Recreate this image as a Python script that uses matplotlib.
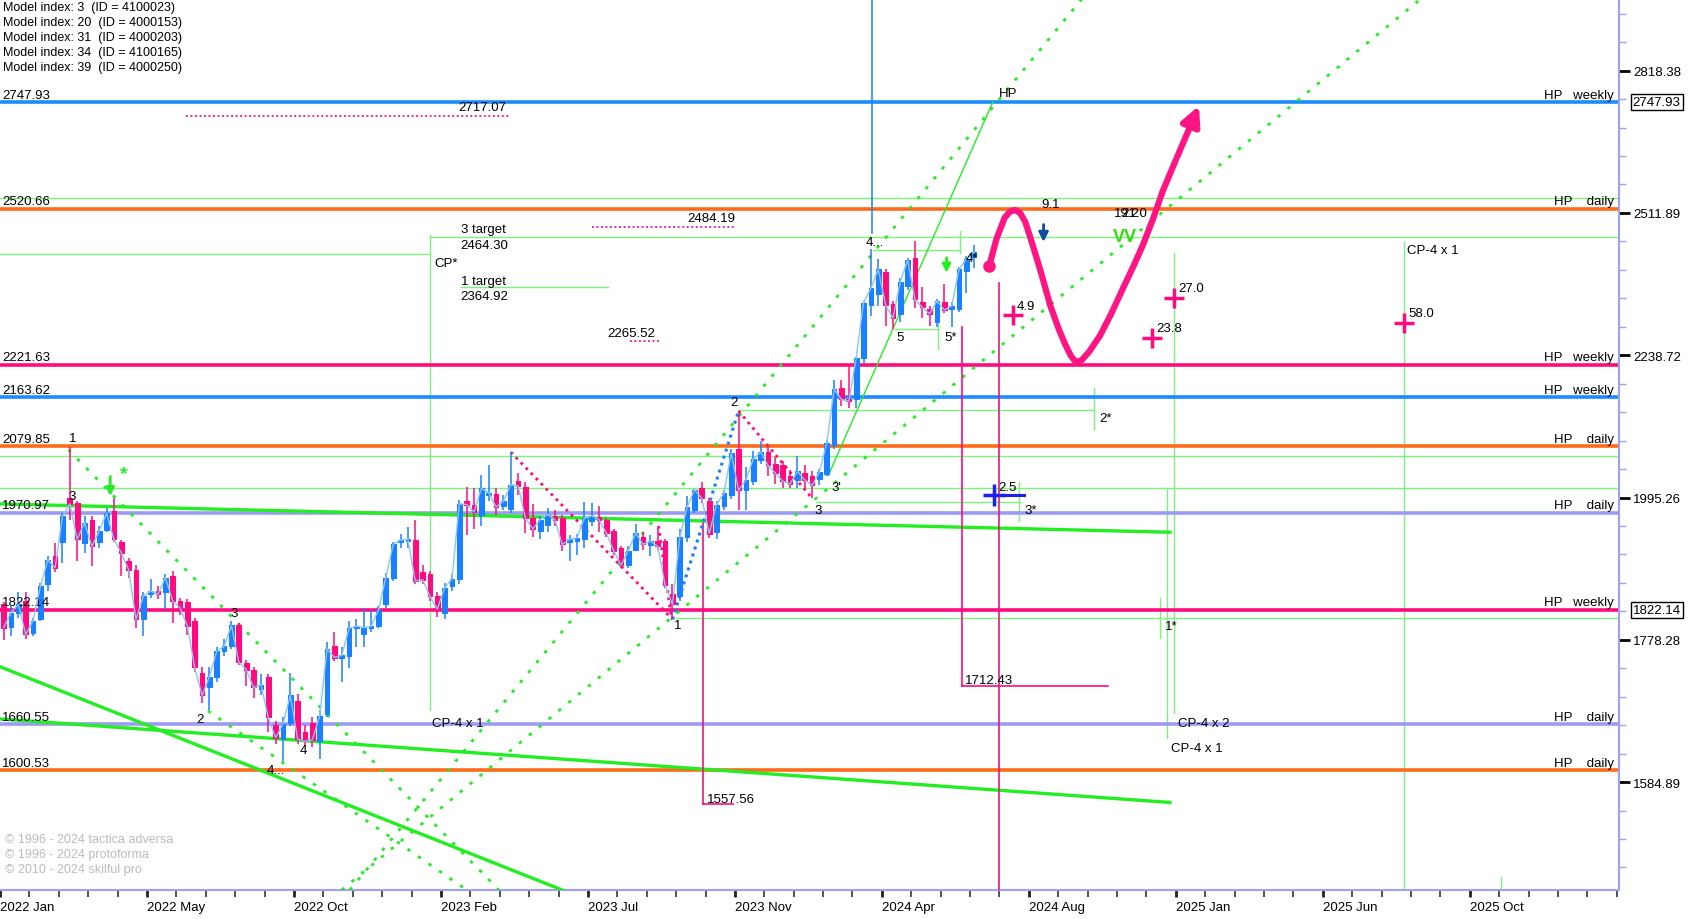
import matplotlib
matplotlib.use("Agg")
import matplotlib.pyplot as plt
import numpy as np
from matplotlib.ticker import FixedLocator, FixedFormatter, NullFormatter

plt.rcParams['font.family'] = ['Liberation Sans', 'DejaVu Sans']

# weekly candles, first week of Jan 2022 .. mid Jul 2024
opens = [1830, 1797, 1818, 1835, 1788, 1808, 1860, 1903, 1925, 1995,
         1987, 1923, 1960, 1924, 1944, 1973, 1924, 1895, 1882, 1808,
         1845, 1850, 1848, 1873, 1835, 1833, 1805, 1731, 1711, 1725,
         1762, 1770, 1799, 1745, 1735, 1709, 1725, 1660, 1641, 1662,
         1693, 1650, 1663, 1638, 1675, 1769, 1752, 1755, 1796, 1786,
         1796, 1798, 1830, 1870, 1924, 1926, 1928, 1878, 1875, 1842,
         1818, 1858, 1868, 1990, 1983, 1968, 2000, 2001, 1981, 1977,
         2022, 2013, 1962, 1942, 1952, 1965, 1962, 1925, 1926, 1929,
         1957, 1964, 1959, 1942, 1915, 1889, 1913, 1933, 1920, 1926,
         1926, 1845, 1843, 1932, 1976, 2010, 1990, 1940, 1982, 2000,
         2075, 2007, 2022, 2057, 2070, 2050, 2048, 2030, 2023, 2036,
         2030, 2026, 2034, 2082, 2180, 2160, 2160, 2234, 2332, 2353,
         2394, 2333, 2314, 2368, 2421, 2338, 2324, 2300, 2338, 2324,
         2324, 2397, 2423]
highs = [1834, 1828, 1848, 1848, 1810, 1862, 1903, 1923, 1970, 2078,
         1990, 1966, 1965, 1950, 1978, 1995, 1928, 1900, 1890, 1848,
         1868, 1858, 1875, 1880, 1840, 1838, 1810, 1740, 1740, 1768,
         1780, 1805, 1802, 1750, 1740, 1730, 1730, 1665, 1670, 1731,
         1702, 1660, 1670, 1680, 1775, 1790, 1768, 1805, 1808, 1825,
         1822, 1828, 1877, 1925, 1938, 1948, 1960, 1890, 1880, 1848,
         1862, 1875, 1992, 2012, 2010, 2032, 2048, 2010, 2000, 2070,
         2035, 2020, 1985, 1965, 1978, 1975, 1968, 1935, 1938, 1988,
         1986, 1982, 1962, 1945, 1918, 1918, 1953, 1940, 1935, 1947,
         1930, 1860, 1945, 1997, 2009, 2020, 1995, 1990, 2007, 2075,
         2140, 2045, 2072, 2088, 2078, 2062, 2055, 2040, 2063, 2048,
         2038, 2042, 2090, 2195, 2195, 2222, 2236, 2340, 2439, 2420,
         2400, 2340, 2384, 2422, 2456, 2365, 2330, 2342, 2371, 2338,
         2404, 2425, 2448]
lows = [1778, 1784, 1810, 1780, 1784, 1806, 1850, 1878, 1892, 1960,
        1895, 1908, 1888, 1915, 1940, 1925, 1873, 1870, 1796, 1784,
        1840, 1838, 1823, 1803, 1815, 1785, 1733, 1690, 1680, 1718,
        1755, 1765, 1742, 1713, 1696, 1700, 1650, 1635, 1612, 1658,
        1635, 1632, 1630, 1615, 1670, 1748, 1718, 1738, 1768, 1768,
        1790, 1795, 1825, 1865, 1915, 1915, 1860, 1860, 1835, 1812,
        1808, 1850, 1860, 1935, 1945, 1950, 1990, 1968, 1975, 1970,
        2000, 1939, 1933, 1929, 1940, 1950, 1910, 1895, 1905, 1915,
        1950, 1940, 1932, 1905, 1885, 1884, 1910, 1913, 1903, 1912,
        1855, 1808, 1835, 1925, 1970, 1987, 1931, 1930, 1975, 1993,
        1975, 1975, 2015, 2050, 2030, 2018, 2010, 2010, 2010, 2010,
        1994, 2015, 2030, 2075, 2148, 2146, 2146, 2225, 2311, 2329,
        2292, 2286, 2300, 2360, 2325, 2308, 2293, 2290, 2316, 2290,
        2318, 2354, 2402]
closes = [1796, 1818, 1830, 1786, 1806, 1857, 1897, 1885, 1965, 1985,
          1929, 1955, 1918, 1942, 1970, 1929, 1908, 1882, 1808, 1842,
          1850, 1845, 1870, 1835, 1825, 1798, 1739, 1700, 1726, 1762,
          1769, 1799, 1746, 1736, 1711, 1715, 1670, 1643, 1661, 1700,
          1641, 1638, 1640, 1672, 1765, 1753, 1756, 1795, 1798, 1796,
          1798, 1822, 1870, 1921, 1928, 1929, 1865, 1867, 1842, 1823,
          1855, 1868, 1985, 1984, 1972, 2010, 2003, 1980, 1989, 2016,
          2014, 1962, 1945, 1960, 1968, 1960, 1921, 1929, 1931, 1962,
          1966, 1960, 1939, 1911, 1889, 1911, 1939, 1921, 1926, 1918,
          1859, 1830, 1932, 1980, 2008, 1994, 1938, 1984, 2002, 2068,
          2007, 2024, 2058, 2070, 2048, 2035, 2022, 2017, 2038, 2024,
          2015, 2037, 2085, 2178, 2160, 2157, 2234, 2336, 2363, 2400,
          2332, 2307, 2375, 2418, 2342, 2327, 2315, 2339, 2322, 2330,
          2400, 2420, 2433]

# horizontal HP levels
levels = [2747.93, 2520.66, 2221.63, 2163.62, 2079.85, 1970.97, 1822.14, 1660.55, 1600.53]
level_tf = ["weekly", "daily", "weekly", "weekly", "daily", "daily", "weekly", "daily", "daily"]
level_colors = ["#1a8cff", "#ff6a1a", "#ff0a7f", "#1a8cff", "#ff6a1a",
                "#9b9bf5", "#ff0a7f", "#9b9bf5", "#ff6a1a"]

right_ticks = [1584.89, 1778.28, 1995.26, 2238.72, 2511.89, 2818.38]
boxed_prices = [2747.93, 1822.14]
month_labels = ["2022 Jan", "2022 May", "2022 Oct", "2023 Feb", "2023 Jul", "2023 Nov",
                "2024 Apr", "2024 Aug", "2025 Jan", "2025 Jun", "2025 Oct"]

# thin green reference segments: price, from week, to week
gh_price = [2543, 2464.30, 2430, 2364.92, 2063, 2011, 1810, 2141, 2437, 2287, 1988]
gh_from = [0, 58.5, 0, 62.7, 0, 0, 91.6, 100.6, 118.8, 121.8, 111.1]
gh_to = [220.3, 220.3, 58.5, 82.7, 220.3, 220.3, 220.3, 148.8, 130.6, 127.7, 138.8]

# thin green verticals: week, top price, bottom price
gv_x = [58.5, 159.8, 158.8, 157.9, 148.8, 138.6, 127.7, 130.6, 191.1, 204.2]
gv_top = [2468, 2431, 2011, 1840, 2180, 2021, 2299, 2476, 2453, 1468]
gv_bot = [1680, 1676, 1643, 1781, 2109, 1957, 2250, 2432, 1452, 1452]

# magenta projection verticals with their target stubs
mv_x = [95.6, 130.9, 135.9]
mv_top = [1955, 2290, 2374]
mv_bot = [1557.56, 1712.43, 1452]
stub_price = [1557.56, 1712.43]
stub_from = [95.6, 130.9]
stub_to = [99.7, 150.7]

# dotted magenta target levels
dot_price = [2717.07, 2484.19, 2265.52]
dot_from = [25.3, 80.6, 85.7]
dot_to = [69.6, 100.0, 89.7]

# wave legs
pink_legs = [((69.5, 91.5), (2070, 1808)), ((100.5, 110.5), (2140, 1994)), ((89.6, 91.3), (1950, 1815))]
blue_leg = ((91.5, 100.5), (1808, 2140))

# channel lines
green_solid = [((0, 159.2), (1985, 1940)), ((0, 76.5), (1740, 1452.4)), ((0, 159.2), (1668, 1559))]
green_dotted = [((47.6, 147.2), (1452.4, 2986.6)), ((46.5, 193.3), (1452.4, 2986.6)),
                ((9.3, 67.9), (2074, 1452.4)), ((28.3, 63.5), (1679, 1452.4))]
green_thin = ((112.7, 135.1), (2031, 2747.93))

# forecast path
path_x = [134.6, 135.6, 136.7, 137.4, 138.1, 138.8, 139.5, 140.1, 140.8, 141.5, 142.2, 142.9,
          143.6, 144.2, 145.0, 145.7, 146.4, 147.2, 148.2, 149.7, 151.2, 152.8, 154.2, 155.5,
          156.9, 158.2, 160.0]
path_y = [2406, 2460, 2502, 2514, 2518, 2512, 2494, 2467, 2434, 2401, 2366, 2331,
          2304, 2282, 2257, 2238, 2226, 2230, 2245, 2275, 2315, 2363, 2405, 2447,
          2500, 2556, 2622]
path_tip = (163.3, 2745)

cross_x = [137.8, 159.7, 156.8, 191.0]
cross_y = [2312, 2345, 2270, 2298]
cross_txt = ["4.9", "27.0", "23.8", "58.0"]

PINK = "#ff0a7f"
BLUE = "#1a80ff"
LIME = "#22ee22"
THIN = "#7cf47c"
AXC = "#a0a0f0"

fig = plt.figure(figsize=(16.92, 9.2), dpi=100)
ax = fig.add_axes([0, 29 / 920, 1619 / 1692, 891 / 920])
ax.set_yscale('log')
ax.set_xlim(0, 220.3)
ax.set_ylim(1452.4, 2986.6)

# thin green grid of references
for p, a, b in zip(gh_price, gh_from, gh_to):
    ax.plot([a, b], [p, p], color=THIN, lw=1, zorder=1)
for x, t, b in zip(gv_x, gv_top, gv_bot):
    ax.plot([x, x], [t, b], color=THIN, lw=1, zorder=1)

# HP levels
for p, tf, c in zip(levels, level_tf, level_colors):
    ax.axhline(p, color=c, lw=2.6, zorder=2)
    ax.text(0.25, p * 1.001, f"{p:.2f}", ha='left', va='bottom', fontsize=9.5, zorder=6)
    gap = "   " if tf == "weekly" else "    "
    ax.text(219.6, p * 1.001, "HP" + gap + tf, ha='right', va='bottom', fontsize=9.5, zorder=6)

# channels
for xs, ys in green_solid:
    ax.plot(xs, ys, color=LIME, lw=2.4, zorder=3)
for xs, ys in green_dotted:
    ax.plot(xs, ys, color=LIME, lw=2, ls=(0, (1.2, 3.4)), zorder=3)
ax.plot(green_thin[0], green_thin[1], color=LIME, lw=1, zorder=3)

# projections
for x, t, b in zip(mv_x, mv_top, mv_bot):
    ax.plot([x, x], [t, b], color=PINK, lw=1.2, zorder=3)
for p, a, b in zip(stub_price, stub_from, stub_to):
    ax.plot([a, b], [p, p], color=PINK, lw=1.2, zorder=3)
for p, a, b in zip(dot_price, dot_from, dot_to):
    ax.plot([a, b], [p, p], color=PINK, lw=1.3, ls=(0, (1, 1.5)), zorder=3)
for xs, ys in pink_legs:
    ax.plot(xs, ys, color=PINK, lw=2, ls=(0, (1, 1.6)), zorder=4)
ax.plot(blue_leg[0], blue_leg[1], color=BLUE, lw=2.2, ls=(0, (1, 1.4)), zorder=4)
ax.plot([118.7, 118.7], [2472, 2986.6], color=BLUE, lw=1.1, zorder=3)

# candles
o = np.array(opens, float)
h = np.array(highs, float)
l = np.array(lows, float)
c = np.array(closes, float)
x = np.arange(len(c)) + 0.5
cols = np.where(c >= o, BLUE, PINK)
ax.vlines(x, l, h, colors=cols, lw=1.1, zorder=5)
ax.bar(x, np.abs(c - o), bottom=np.minimum(o, c), width=0.64, color=cols,
       edgecolor=cols, lw=0.8, zorder=5)
ax.plot(x, c, color="#8cc4ff", lw=1, zorder=6)

# forecast path
ax.plot(path_x, path_y, color="#ff1483", lw=4.5, solid_capstyle='round', zorder=7)
ax.plot(path_x[0], path_y[0], 'o', color="#ff1483", ms=8, zorder=7)
ax.annotate('', xy=path_tip, xytext=(path_x[-1], path_y[-1]),
            arrowprops=dict(arrowstyle='-|>', color="#ff1483", lw=4.5, mutation_scale=28),
            zorder=7)

# crosses
ax.plot(cross_x, cross_y, '+', color=PINK, ms=15, mew=2.5, zorder=7)
for cx, cy, t in zip(cross_x, cross_y, cross_txt):
    ax.text(cx + 0.6, cy * 1.003, t, fontsize=9.5, va='bottom', ha='left', zorder=8)
ax.plot([135.2], [2000], '+', color="#2020ee", ms=16, mew=2.5, zorder=7)
ax.plot([134.1, 139.3], [2000, 2000], color="#2020ee", lw=2.2, zorder=7)
ax.text(135.9, 2002, "2.5", fontsize=9.5, va='bottom', ha='left', zorder=8)

# arrows
ax.annotate('', xy=(15.0, 1993), xytext=(15.0, 2034),
            arrowprops=dict(arrowstyle='-|>', color=LIME, lw=2, mutation_scale=12), zorder=8)
ax.text(16.3, 2035, "*", color=LIME, fontsize=14, fontweight='bold', ha='left', va='center')
ax.annotate('', xy=(128.8, 2388), xytext=(128.8, 2428),
            arrowprops=dict(arrowstyle='-|>', color=LIME, lw=2, mutation_scale=12), zorder=8)
ax.annotate('', xy=(142.0, 2448), xytext=(142.0, 2494),
            arrowprops=dict(arrowstyle='-|>', color="#124c9c", lw=2, mutation_scale=14), zorder=8)
ax.text(153.0, 2464, "VV", color="#33dd11", fontsize=13, fontweight='bold',
        ha='center', va='center', zorder=8)

# wave & target labels
labels = [
    ("1", 9.85, 2094), ("3", 9.85, 1998), ("3", 31.9, 1818), ("2", 27.2, 1668),
    ("4", 41.3, 1627), ("4...", 37.5, 1600), ("1", 92.2, 1799), ("2", 99.9, 2156),
    ("3", 111.3, 1975), ("3'", 113.8, 2012), ("4...", 119.0, 2453), ("5", 122.5, 2272),
    ("5*", 129.3, 2272), ("4*", 132.3, 2421), ("2*", 150.4, 2128), ("3*", 140.3, 1975),
    ("1*", 159.4, 1798), ("9.1", 143.0, 2530), ("CP*", 60.7, 2413),
]
for t, lx, ly in labels:
    ax.text(lx, ly, t, fontsize=9.5, ha='center', va='center', zorder=8)
# two values printed on top of each other, as in the source
ax.text(151.6, 2512, "19.2", fontsize=9.5, ha='left', va='center', zorder=8)
ax.text(152.6, 2512, "21.0", fontsize=9.5, ha='left', va='center', zorder=8)

left_texts = [
    ("3 target", 62.7, 2479), ("2464.30", 62.7, 2447), ("1 target", 62.7, 2377),
    ("2364.92", 62.7, 2349), ("2717.07", 62.4, 2737), ("2484.19", 93.5, 2501),
    ("2265.52", 82.7, 2280), ("1712.43", 131.3, 1722), ("1557.56", 96.2, 1564),
    ("CP-4 x 1", 58.8, 1662), ("CP-4 x 2", 160.3, 1662), ("CP-4 x 1", 159.3, 1629),
    ("CP-4 x 1", 191.5, 2438), ("HP", 135.9, 2768),
]
for t, lx, ly in left_texts:
    ax.text(lx, ly, t, fontsize=9.5, ha='left', va='center', zorder=8)

# axes styling
for s in ('top', 'left'):
    ax.spines[s].set_visible(False)
for s in ('right', 'bottom'):
    ax.spines[s].set_color(AXC)
    ax.spines[s].set_linewidth(1.5)

ax.yaxis.tick_right()
ax.yaxis.set_major_locator(FixedLocator(right_ticks))
ax.yaxis.set_major_formatter(FixedFormatter([f"{v:.2f}" for v in right_ticks]))
ax.yaxis.set_minor_locator(FixedLocator(10 ** np.arange(3.16, 3.48, 0.01)))
ax.yaxis.set_minor_formatter(NullFormatter())
ax.tick_params(axis='y', which='major', length=8, width=2, color='black', pad=2, labelsize=9.5)
ax.tick_params(axis='y', which='minor', length=5, width=1, color=AXC)

ax.xaxis.set_major_locator(FixedLocator(np.arange(0, 201, 20)))
ax.xaxis.set_major_formatter(FixedFormatter(month_labels))
ax.xaxis.set_minor_locator(FixedLocator(np.arange(0, 221, 4)))
ax.tick_params(axis='x', which='major', length=5, width=2, color='#222222', pad=3, labelsize=9.5)
ax.tick_params(axis='x', which='minor', length=5, width=1.2, color='#333333')
for lab in ax.get_xticklabels():
    lab.set_ha('left')

for p in boxed_prices:
    ax.text(1.0085, p, f"{p:.2f}", transform=ax.get_yaxis_transform(), fontsize=9.5,
            ha='left', va='center', clip_on=False,
            bbox=dict(boxstyle='square,pad=0.15', fc='white', ec='black', lw=1))

model_lines = ["Model index: 3  (ID = 4100023)", "Model index: 20  (ID = 4000153)",
               "Model index: 31  (ID = 4000203)", "Model index: 34  (ID = 4100165)",
               "Model index: 39  (ID = 4000250)"]
for k, t in enumerate(model_lines):
    fig.text(0.0015, 1 - (8 + 15.1 * k) / 920, t, fontsize=9, ha='left', va='center')

copy_lines = ["© 1996 - 2024 tactica adversa", "© 1996 - 2024 protoforma", "© 2010 - 2024 skilful pro"]
for k, t in enumerate(copy_lines):
    fig.text(0.003, 1 - (840 + 15 * k) / 920, t, fontsize=9, color='#bbbbbb', ha='left', va='center')

fig.savefig('out.png', dpi=100)
